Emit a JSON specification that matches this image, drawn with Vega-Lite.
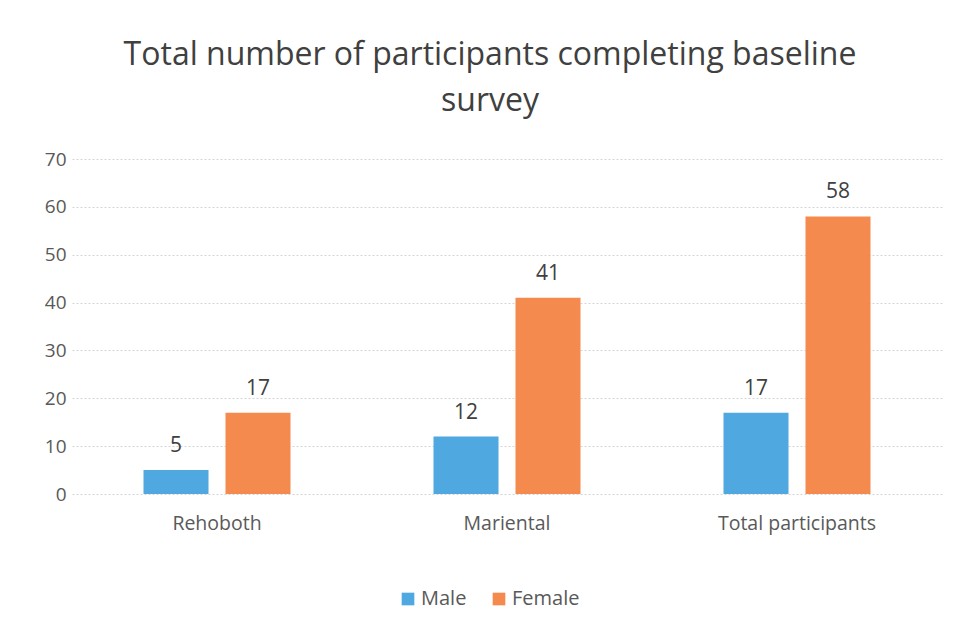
{
  "$schema": "https://vega.github.io/schema/vega-lite/v6.json",
  "autosize": "none",
  "width": 870,
  "height": 335,
  "padding": {"left": 72, "top": 159, "right": 16, "bottom": 141},
  "background": "white",
  "config": {"view": {"stroke": null}},
  "title": {
    "text": ["Total number of participants completing baseline", "survey"],
    "font": "Open Sans",
    "fontSize": 32,
    "fontWeight": "normal",
    "color": "#404040",
    "lineHeight": 46,
    "anchor": "middle",
    "frame": "group",
    "dx": -17,
    "offset": 32
  },
  "data": {
    "values": [
      {"site": "Rehoboth", "sex": "Male", "count": 5},
      {"site": "Rehoboth", "sex": "Female", "count": 17},
      {"site": "Mariental", "sex": "Male", "count": 12},
      {"site": "Mariental", "sex": "Female", "count": 41},
      {"site": "Total participants", "sex": "Male", "count": 17},
      {"site": "Total participants", "sex": "Female", "count": 58}
    ]
  },
  "encoding": {
    "x": {
      "field": "site",
      "type": "nominal",
      "sort": ["Rehoboth", "Mariental", "Total participants"],
      "scale": {"paddingInner": 0, "paddingOuter": 0},
      "axis": {
        "title": null,
        "labelAngle": 0,
        "labelFont": "Open Sans",
        "labelFontSize": 19.5,
        "labelColor": "#595959",
        "labelPadding": 20,
        "domain": false,
        "ticks": false
      }
    },
    "xOffset": {
      "field": "sex",
      "type": "nominal",
      "sort": ["Male", "Female"],
      "scale": {"paddingInner": 0.207, "paddingOuter": 0.872}
    },
    "y": {
      "field": "count",
      "type": "quantitative",
      "scale": {"domain": [0, 70]},
      "axis": {
        "title": null,
        "values": [0, 10, 20, 30, 40, 50, 60, 70],
        "labelFont": "Open Sans",
        "labelFontSize": 19,
        "labelColor": "#595959",
        "labelPadding": 6,
        "domain": false,
        "ticks": false,
        "gridColor": "#d4d4d4",
        "gridDash": [2, 2],
        "gridWidth": 1
      }
    }
  },
  "layer": [
    {
      "mark": {"type": "bar"},
      "encoding": {
        "color": {
          "field": "sex",
          "type": "nominal",
          "sort": ["Male", "Female"],
          "scale": {"domain": ["Male", "Female"], "range": ["#4FA8E0", "#F58A4E"]},
          "legend": {
            "title": null,
            "orient": "none",
            "direction": "horizontal",
            "legendX": 326,
            "legendY": 430,
            "symbolType": "square",
            "symbolSize": 160,
            "symbolStrokeWidth": 0,
            "labelFont": "Open Sans",
            "labelFontSize": 20,
            "labelColor": "#595959",
            "columnPadding": 22,
            "labelOffset": 3
          }
        }
      }
    },
    {
      "mark": {"type": "text", "dy": -14, "baseline": "bottom", "font": "Open Sans", "fontSize": 21, "color": "#404040"},
      "encoding": {"text": {"field": "count", "type": "quantitative"}}
    }
  ]
}
